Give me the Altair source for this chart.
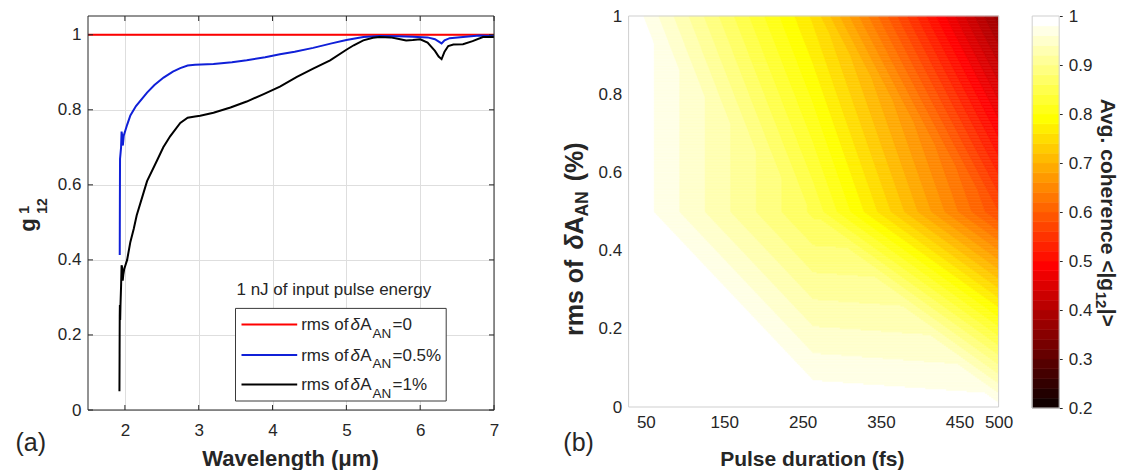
import altair as alt
import numpy as np
import pandas as pd

FONT = "Liberation Sans"
TXT = "#262626"

# ---------------- panel (a): coherence spectra ----------------
red_lam = [1.5, 7.0]
red_g = [1.0, 1.0]

blue_lam = [1.930, 1.932, 1.934, 1.948, 1.955, 1.960, 1.965, 1.972, 1.984, 2.03, 2.074, 2.15,
            2.30, 2.40, 2.524, 2.65, 2.75, 2.85, 2.95, 3.20, 3.45, 3.65, 3.90, 4.10, 4.30, 4.55,
            4.80, 5.00, 5.23, 5.45, 5.70, 5.90, 6.10, 6.20, 6.29, 6.33, 6.40, 6.58, 6.80, 7.00]
blue_g = [0.413, 0.560, 0.669, 0.700, 0.742, 0.735, 0.712, 0.705, 0.731, 0.760, 0.785, 0.810,
          0.846, 0.866, 0.886, 0.902, 0.911, 0.918, 0.920, 0.922, 0.927, 0.932, 0.940, 0.948, 0.955, 0.965,
          0.977, 0.986, 0.994, 0.997, 0.996, 0.995, 0.993, 0.988, 0.977, 0.985, 0.991, 0.994, 0.998, 0.997]

black_lam = [1.926, 1.928, 1.930, 1.932, 1.936, 1.940, 1.948, 1.955, 1.962, 1.970, 1.978, 1.990,
             2.03, 2.074, 2.12, 2.16, 2.254, 2.30, 2.435, 2.52, 2.615, 2.75, 2.85, 2.95, 3.02,
             3.20, 3.43, 3.65, 3.88, 4.10, 4.33, 4.55, 4.78, 5.00, 5.10, 5.23, 5.36, 5.45, 5.60,
             5.68, 5.81, 5.90, 6.00, 6.10, 6.20, 6.25, 6.29, 6.33, 6.38, 6.45, 6.58, 6.71, 6.85, 7.00]
black_g = [0.05, 0.15, 0.25, 0.28, 0.24, 0.28, 0.33, 0.386, 0.38, 0.345, 0.36, 0.375,
           0.40, 0.448, 0.483, 0.519, 0.58, 0.61, 0.665, 0.70, 0.73, 0.765, 0.779, 0.782, 0.784,
           0.792, 0.806, 0.822, 0.842, 0.862, 0.888, 0.910, 0.932, 0.960, 0.972, 0.985, 0.992, 0.994, 0.993,
           0.990, 0.985, 0.986, 0.988, 0.979, 0.957, 0.942, 0.935, 0.955, 0.970, 0.974, 0.975, 0.983, 0.994, 0.994]

series_names = ["rms 0", "rms 0.5%", "rms 1%"]
series_colors = ["#ff0000", "#1020d8", "#000000"]
legend_suffix = ["=0", "=0.5%", "=1%"]
wl_ticks = [2, 3, 4, 5, 6, 7]
g_ticks = [0, 0.2, 0.4, 0.6, 0.8, 1]

# ---------------- panel (b): average coherence map ----------------
pulse_nodes = [28, 264, 500]          # fs
rms_nodes = [0.0, 0.5, 1.0]           # %
coh_at_rms0 = [1.0, 1.0, 0.99]
coh_at_rms05 = [1.0, 0.855, 0.58]
coh_at_rms1 = [1.0, 0.755, 0.37]
pulse_ticks = [50, 150, 250, 350, 450, 500]
rms_ticks = [0, 0.2, 0.4, 0.6, 0.8, 1]
cbar_ticks = [0.2, 0.3, 0.4, 0.5, 0.6, 0.7, 0.8, 0.9, 1.0]
LEVEL_STEP = 0.02
CMIN, CMAX = 0.2, 1.0

# ---------------- geometry ----------------
WA, HA = 406, 394
WB, HB = 370, 391
WC, HC = 27, 392
A0 = (87.5, 14.3)
B0 = (628.3, 14.3)
C0 = (1032.3, 14.3)


def T(s, x, y, size=17, weight="normal", style="normal", angle=0, align="left", color=TXT):
    kw = dict(fontSize=size, fontWeight=weight, font=FONT, color=color, align=align,
              baseline="alphabetic")
    if angle:
        kw["angle"] = angle
    if style != "normal":
        kw["fontStyle"] = style
    return alt.Chart(pd.DataFrame({"label": [s]})).mark_text(**kw).encode(
        text="label:N", x=alt.value(x), y=alt.value(y))


def frame(w, h, color, width=1.0):
    return alt.Chart(pd.DataFrame({"f": [0]})).mark_rect(
        fillOpacity=0, stroke=color, strokeWidth=width).encode(
        x=alt.value(0), x2=alt.value(w), y=alt.value(0), y2=alt.value(h))


hot = alt.Scale(domain=[0.2, 0.5, 0.8, 1.0],
                range=["#000000", "#ff0000", "#ffff00", "#ffffff"], interpolate="rgb")

# ---------------- panel (a) chart ----------------
rows = []
for name, lam, g in zip(series_names, [red_lam, blue_lam, black_lam], [red_g, blue_g, black_g]):
    for k, (a, b) in enumerate(zip(lam, g)):
        rows.append({"series": name, "lam": a, "g": b, "ord": k})
line_df = pd.DataFrame(rows)

xa = alt.Scale(domain=[1.5, 7], nice=False, zero=False)
ya = alt.Scale(domain=[0, 1.05], nice=False, zero=False)
ax_xa = alt.Axis(values=wl_ticks, format="~g", grid=True, gridColor="#dedede", ticks=False, domain=False,
                 labelPadding=12, labelFontSize=17, labelFont=FONT, labelColor=TXT, labelFlush=False,
                 labelOverlap=False, title=None)
ax_ya = alt.Axis(values=g_ticks, format="~g", grid=True, gridColor="#dedede", ticks=False, domain=False,
                 labelPadding=7, labelFontSize=17, labelFont=FONT, labelColor=TXT, labelFlush=False,
                 labelOverlap=False, title=None)

lines = alt.Chart(line_df).mark_line(strokeWidth=2).encode(
    x=alt.X("lam:Q", scale=xa, axis=ax_xa),
    y=alt.Y("g:Q", scale=ya, axis=ax_ya),
    color=alt.Color("series:N", scale=alt.Scale(domain=series_names, range=series_colors), legend=None),
    order="ord:Q",
)

tick_df_x = pd.DataFrame({"lam": wl_ticks})
tick_df_y = pd.DataFrame({"g": g_ticks})
tick_bottom = alt.Chart(tick_df_x).mark_rule(color=TXT, strokeWidth=1).encode(
    x=alt.X("lam:Q", scale=xa, axis=ax_xa), y=alt.value(HA), y2=alt.value(HA - 5))
tick_top = alt.Chart(tick_df_x).mark_rule(color=TXT, strokeWidth=1).encode(
    x=alt.X("lam:Q", scale=xa, axis=ax_xa), y=alt.value(0), y2=alt.value(5))
tick_left = alt.Chart(tick_df_y).mark_rule(color=TXT, strokeWidth=1).encode(
    y=alt.Y("g:Q", scale=ya, axis=ax_ya), x=alt.value(0), x2=alt.value(5))
tick_right = alt.Chart(tick_df_y).mark_rule(color=TXT, strokeWidth=1).encode(
    y=alt.Y("g:Q", scale=ya, axis=ax_ya), x=alt.value(WA), x2=alt.value(WA - 5))


def ra(x, y):
    return x - A0[0], y - A0[1]


leg_layers = []
bx0, by0 = ra(235, 306.7)
bx1, by1 = ra(445.7, 399.3)
leg_layers.append(alt.Chart(pd.DataFrame({"f": [0]})).mark_rect(
    fill="white", stroke="#3a3a3a", strokeWidth=1).encode(
    x=alt.value(bx0), x2=alt.value(bx1), y=alt.value(by0), y2=alt.value(by1)))
line_ys = [322.7, 353.3, 382.7]
for name, col, suf, ly in zip(series_names, series_colors, legend_suffix, line_ys):
    lx0, lyy = ra(241, ly)
    lx1, _ = ra(296.7, ly)
    leg_layers.append(alt.Chart(pd.DataFrame({"f": [name]})).mark_rule(color=col, strokeWidth=2).encode(
        x=alt.value(lx0), x2=alt.value(lx1), y=alt.value(lyy)))
    bl = ly + 5.6
    leg_layers.append(T("rms of", *ra(300.7, bl)))
    leg_layers.append(T("δ", *ra(350.0, bl), style="italic"))
    leg_layers.append(T("A", *ra(359.8, bl)))
    leg_layers.append(T("AN", *ra(372.0, bl + 7.5), size=13.5))
    leg_layers.append(T(suf, *ra(392.0, bl)))

texts_a = [
    T("(a)", *ra(15, 449), size=25),
    T("Wavelength (μm)", *ra(290, 464), size=22, weight="bold", align="center"),
    T("g", *ra(34, 230), size=22, weight="bold", angle=270),
    T("1", *ra(28, 212), size=14, weight="bold", angle=270),
    T("12", *ra(46, 212), size=14, weight="bold", angle=270),
    T("1 nJ of input pulse energy", *ra(333.3, 293.3), size=17, align="center"),
]

panel_a = alt.layer(lines, tick_bottom, tick_top, tick_left, tick_right, *leg_layers, *texts_a,
                    frame(WA, HA, TXT)).properties(width=WA, height=HA)

# ---------------- panel (b) chart: filled contour ----------------
Zn = np.array([coh_at_rms0, coh_at_rms05, coh_at_rms1], dtype=float)
xn = np.array(pulse_nodes, dtype=float)
yn = np.array(rms_nodes, dtype=float)


def field(x, r):
    i = np.clip(np.searchsorted(xn, x, side="right") - 1, 0, len(xn) - 2)
    j = int(np.clip(np.searchsorted(yn, r, side="right") - 1, 0, len(yn) - 2))
    u = (x - xn[i]) / (xn[i + 1] - xn[i])
    v = (r - yn[j]) / (yn[j + 1] - yn[j])
    z00, z10 = Zn[j, i], Zn[j, i + 1]
    z01, z11 = Zn[j + 1, i], Zn[j + 1, i + 1]
    lower = z00 + u * (z10 - z00) + v * (z01 - z00)
    upper = z11 + (1 - u) * (z01 - z11) + (1 - v) * (z10 - z11)
    return np.where(u + v <= 1, lower, upper)


nlev = int(round((CMAX - CMIN) / LEVEL_STEP))
xs = np.linspace(xn[0], xn[-1], 1889)
redges = np.linspace(0, 1, 261)
recs = []
for r0, r1 in zip(redges[:-1], redges[1:]):
    z = field(xs, 0.5 * (r0 + r1))
    idx = np.clip(np.floor((z - CMIN) / LEVEL_STEP + 1e-9).astype(int), 0, nlev - 1)
    change = np.nonzero(np.diff(idx))[0]
    bounds = [xs[0]] + [0.5 * (xs[k] + xs[k + 1]) for k in change] + [xs[-1]]
    starts = [0] + [k + 1 for k in change]
    for s, a, b in zip(starts, bounds[:-1], bounds[1:]):
        recs.append({"x0": round(float(a), 2), "x1": round(float(b), 2),
                     "y0": round(float(r0), 4), "y1": round(float(r1), 4),
                     "lev": round(CMIN + LEVEL_STEP * (idx[s] + 1), 3)})
cont_df = pd.DataFrame(recs)

xb = alt.Scale(domain=[xn[0], xn[-1]], nice=False, zero=False)
yb = alt.Scale(domain=[0, 1], nice=False, zero=False)

contour = alt.Chart(cont_df).mark_rect(strokeWidth=0.6).encode(
    x=alt.X("x0:Q", scale=xb, axis=alt.Axis(
        values=pulse_ticks, ticks=False, domain=False, grid=False, labelPadding=7,
        labelFontSize=17, labelFont=FONT, labelColor=TXT, labelFlush=False, labelOverlap=False,
        title=None)),
    x2="x1:Q",
    y=alt.Y("y0:Q", scale=yb, axis=alt.Axis(
        values=rms_ticks, format="~g", ticks=False, domain=False, grid=False, labelPadding=7,
        labelFontSize=17, labelFont=FONT, labelColor=TXT, labelFlush=False, labelOverlap=False,
        title=None)),
    y2="y1:Q",
    fill=alt.Fill("lev:Q", scale=hot, legend=None),
    stroke=alt.Stroke("lev:Q", scale=hot, legend=None),
)


def rb(x, y):
    return x - B0[0], y - B0[1]


# y-title pieces of panel (b), reading upwards
yt_x = 583
texts_b = [
    T("(b)", *rb(563, 449), size=25),
    T("Pulse duration (fs)", *rb(812, 464), size=21, weight="bold", align="center"),
    T("rms of", *rb(yt_x, 334.3), size=25, weight="bold", angle=270),
    T("δ", *rb(yt_x, 247.9), size=25, weight="bold", style="italic", angle=270),
    T("A", *rb(yt_x, 232.9), size=25, weight="bold", angle=270),
    T("AN", *rb(yt_x + 5, 214.9), size=17.5, weight="bold", angle=270),
    T("(%)", *rb(yt_x, 179.6), size=25, weight="bold", angle=270),
]

panel_b = alt.layer(contour, *texts_b, frame(WB, HB, "#cfcfcf")).properties(width=WB, height=HB)

# ---------------- colour bar ----------------
lo = np.round(CMIN + LEVEL_STEP * np.arange(nlev), 3)
cbar_df = pd.DataFrame({"lo": lo, "hi": np.round(lo + LEVEL_STEP, 3), "lev": np.round(lo + LEVEL_STEP, 3)})
yc = alt.Scale(domain=[CMIN, CMAX], nice=False, zero=False)
cbar = alt.Chart(cbar_df).mark_rect(strokeWidth=0.6).encode(
    x=alt.value(0), x2=alt.value(WC),
    y=alt.Y("lo:Q", scale=yc, axis=alt.Axis(
        orient="right", values=cbar_ticks, format="~g", ticks=True, tickSize=3, tickColor=TXT,
        domain=False, grid=False, labelPadding=6, labelFontSize=17, labelFont=FONT,
        labelColor=TXT, labelFlush=False, labelOverlap=False, title=None)),
    y2="hi:Q",
    fill=alt.Fill("lev:Q", scale=hot, legend=None),
    stroke=alt.Stroke("lev:Q", scale=hot, legend=None),
)


def rc(x, y):
    return x - C0[0], y - C0[1]


texts_c = [
    T("Avg. coherence <|g", *rc(1101, 97), size=21, weight="bold", angle=90),
    T("12", *rc(1096.5, 290), size=15, weight="bold", angle=90),
    T("|>", *rc(1101, 307), size=21, weight="bold", angle=90),
]

panel_c = alt.layer(cbar, *texts_c, frame(WC, HC, "#cfcfcf")).properties(width=WC, height=HC)

chart = alt.hconcat(
    panel_a,
    alt.hconcat(panel_b, panel_c, spacing=33.6, bounds="flush"),
    spacing=134.6, bounds="flush",
).properties(
    padding={"left": 7, "top": -1, "right": 2, "bottom": 0},
    background="white",
).configure_view(strokeWidth=0)

chart.save("out.html", embed_options={"renderer": "svg", "actions": False})
